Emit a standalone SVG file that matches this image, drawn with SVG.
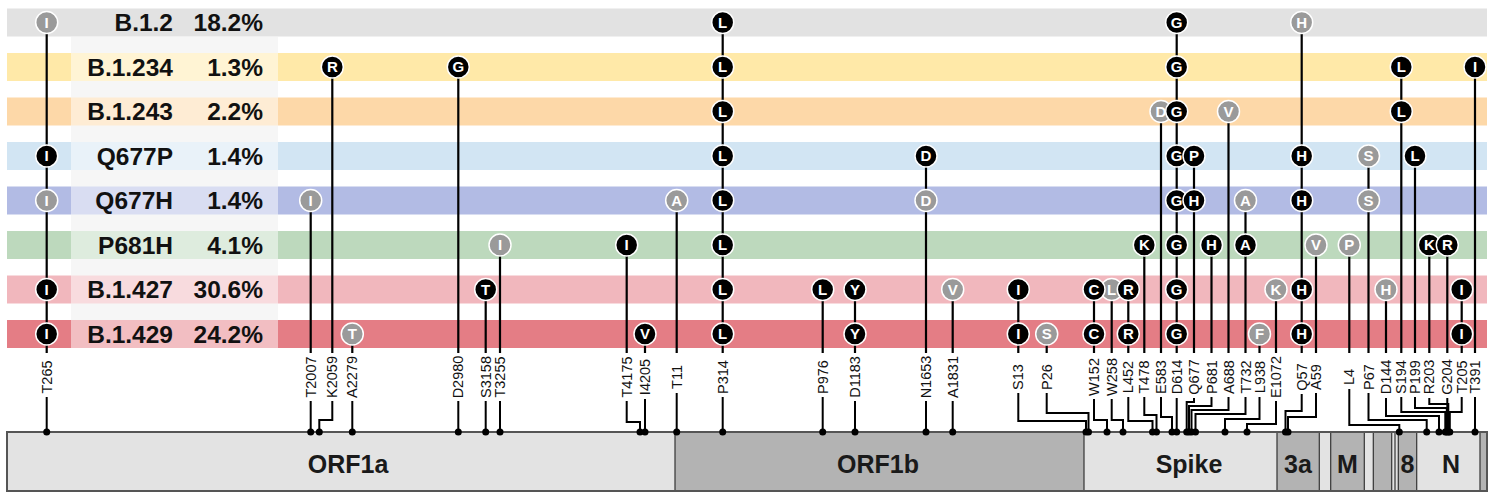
<svg xmlns="http://www.w3.org/2000/svg" width="1491" height="499" viewBox="0 0 1491 499">
<style>
.lab{font-family:"Liberation Sans",Arial,sans-serif;font-weight:bold;font-size:24.5px;fill:#111;text-anchor:end}
.ln{stroke:#000;stroke-width:2.2;fill:none}
.lo{stroke:#000;stroke-width:2;fill:none}
.bk{fill:#000;stroke:#fff;stroke-width:1.5}
.gy{fill:#9a9a9a;stroke:#fff;stroke-width:1.5}
.bt{font-family:"Liberation Sans",Arial,sans-serif;font-weight:bold;font-size:15px;fill:#fff;text-anchor:middle}
.pos{font-family:"Liberation Sans",Arial,sans-serif;font-size:14.5px;fill:#111;text-anchor:middle}
.dot{fill:#000}
.sl{fill:#e3e3e3}
.sd{fill:#b3b3b3}
.sep{stroke:#333;stroke-width:1.2}
.gn{font-family:"Liberation Sans",Arial,sans-serif;font-weight:bold;font-size:25px;fill:#1a1a1a;text-anchor:middle}
</style>
<rect width="1491" height="499" fill="#fff"/>
<rect x="71" y="37" width="207" height="311" fill="#ececec"/>
<g id="rows">
<g id="row-B.1.2"><rect x="7" y="8.5" width="1480" height="28" fill="#e2e2e2"/></g>
<g id="row-B.1.234"><rect x="7" y="53" width="1480" height="28" fill="#ffe9a8"/></g>
<g id="row-B.1.243"><rect x="7" y="97.5" width="1480" height="28" fill="#fdd8a8"/></g>
<g id="row-Q677P"><rect x="7" y="142" width="1480" height="28" fill="#d2e5f3"/></g>
<g id="row-Q677H"><rect x="7" y="186.5" width="1480" height="28" fill="#b2bbe4"/></g>
<g id="row-P681H"><rect x="7" y="231" width="1480" height="28" fill="#bdd9bd"/></g>
<g id="row-B.1.427"><rect x="7" y="275.5" width="1480" height="28" fill="#f1b7bd"/></g>
<g id="row-B.1.429"><rect x="7" y="320" width="1480" height="28" fill="#e47d85"/></g>
</g>
<rect x="71" y="37" width="207" height="311" fill="#fff" opacity="0.5"/>
<g id="row-labels">
<text class="lab" x="173" y="31.3">B.1.2</text><text class="lab" x="263" y="31.3">18.2%</text>
<text class="lab" x="173" y="75.8">B.1.234</text><text class="lab" x="263" y="75.8">1.3%</text>
<text class="lab" x="173" y="120.3">B.1.243</text><text class="lab" x="263" y="120.3">2.2%</text>
<text class="lab" x="173" y="164.8">Q677P</text><text class="lab" x="263" y="164.8">1.4%</text>
<text class="lab" x="173" y="209.3">Q677H</text><text class="lab" x="263" y="209.3">1.4%</text>
<text class="lab" x="173" y="253.8">P681H</text><text class="lab" x="263" y="253.8">4.1%</text>
<text class="lab" x="173" y="298.3">B.1.427</text><text class="lab" x="263" y="298.3">30.6%</text>
<text class="lab" x="173" y="342.8">B.1.429</text><text class="lab" x="263" y="342.8">24.2%</text>
</g>
<g id="genome">
<rect class="sl" x="7" y="432" width="668" height="59"/>
<rect class="sd" x="675" y="432" width="409" height="59"/>
<rect class="sl" x="1084" y="432" width="193" height="59"/>
<rect class="sd" x="1277" y="432" width="42.3" height="59"/>
<rect class="sl" x="1319.3" y="432" width="11.4" height="59"/>
<rect class="sd" x="1330.7" y="432" width="33.6" height="59"/>
<rect class="sl" x="1364.3" y="432" width="9" height="59"/>
<rect class="sd" x="1373.3" y="432" width="18.4" height="59"/>
<rect class="sl" x="1391.7" y="432" width="6.6" height="59"/>
<rect class="sd" x="1398.3" y="432" width="18.4" height="59"/>
<rect class="sl" x="1416.7" y="432" width="63.3" height="59"/>
<rect class="sd" x="1480" y="432" width="7" height="59"/>
<g class="sep">
<line x1="675" y1="432" x2="675" y2="491"/><line x1="1084" y1="432" x2="1084" y2="491"/>
<line x1="1277" y1="432" x2="1277" y2="491"/><line x1="1319.3" y1="432" x2="1319.3" y2="491"/>
<line x1="1330.7" y1="432" x2="1330.7" y2="491"/><line x1="1364.3" y1="432" x2="1364.3" y2="491"/>
<line x1="1373.3" y1="432" x2="1373.3" y2="491"/><line x1="1391.7" y1="432" x2="1391.7" y2="491"/>
<line x1="1395" y1="432" x2="1395" y2="491"/>
<line x1="1398.3" y1="432" x2="1398.3" y2="491"/><line x1="1416.7" y1="432" x2="1416.7" y2="491"/>
<line x1="1480" y1="432" x2="1480" y2="491"/>
</g>
<rect x="7" y="432" width="1480" height="59" fill="none" stroke="#555" stroke-width="2"/>
<text class="gn" x="348" y="473">ORF1a</text>
<text class="gn" x="878" y="473">ORF1b</text>
<text class="gn" x="1189" y="473">Spike</text>
<text class="gn" x="1298" y="473">3a</text>
<text class="gn" x="1347.5" y="473">M</text>
<text class="gn" x="1407.5" y="473">8</text>
<text class="gn" x="1451" y="473">N</text>
</g>
<g id="connectors">
<path class="ln" d="M46.7 22.5V353M310.7 200.5V353M332.3 67V353M352.3 334V353M458.3 67V353M485.7 289.5V353M500 245V353M626.7 245V353M645 334V353M676.7 200.5V353M722.7 22.5V353M822.7 289.5V353M855 289.5V353M926 156V353M952.7 289.5V353M1018.3 289.5V353M1046.7 334V353M1094 289.5V353M1111.7 289.5V353M1128.3 289.5V353M1144.3 245V353M1161 111.5V353M1176.7 22.5V353M1194 156V353M1211.5 245V353M1228.5 111.5V353M1245.5 200.5V353M1259.5 334V353M1276 289.5V353M1301.7 22.5V353M1316 245V353M1349.3 245V353M1368.5 156V353M1386 289.5V353M1401.3 67V353M1415 156V353M1429.3 245V353M1447.3 245V353M1461.7 289.5V353M1475 67V353"/>
<path class="lo" d="M46.7 397V432M310.7 401V432M332.3 401V420H319.3V432M352.3 401V432M458.3 401V432M485.7 401V432M500 401V432M626.7 401V422H640V432M645 399V432M676.7 393V432M722.7 397V432M822.7 397V432M855 401V432M926 401V432M952.7 401V432"/>
<path class="lo" d="M1018.3 393V421H1086V432M1046.7 393V413H1088.5V432M1094 399V420H1107V432M1111.7 399V420H1123V432M1128.3 397V421H1152.5V432M1144.3 397V415H1156.5V432M1161 397V417H1172V432M1176.7 398V432M1194 398V402H1186.7V432M1211.5 397V406H1189V432M1228.5 397V410H1191.5V432M1245.5 397V414H1195.5V432M1259.5 397V419H1225V432M1276 401V424H1247V432"/>
<path class="lo" d="M1301.7 394V411H1285.5V432M1316 393V417H1288V432M1349.3 389V425H1399.3V432M1368.5 393V420H1426.7V432M1386 398V416H1439V432M1401.3 397V412H1445.3V432M1415 397V408H1446.8V432M1429.3 398V404H1448.3V432M1447.3 398V432M1461.7 397V412H1449.8V432M1475 397V432"/>
<g class="dot">
<circle cx="46.7" cy="432" r="3.5"/><circle cx="310.7" cy="432" r="3.5"/><circle cx="319.3" cy="432" r="3.5"/><circle cx="352.3" cy="432" r="3.5"/><circle cx="458.3" cy="432" r="3.5"/><circle cx="485.7" cy="432" r="3.5"/><circle cx="500" cy="432" r="3.5"/><circle cx="640" cy="432" r="3.5"/><circle cx="645" cy="432" r="3.5"/><circle cx="676.7" cy="432" r="3.5"/><circle cx="722.7" cy="432" r="3.5"/><circle cx="822.7" cy="432" r="3.5"/><circle cx="855" cy="432" r="3.5"/><circle cx="926" cy="432" r="3.5"/><circle cx="952.7" cy="432" r="3.5"/>
<circle cx="1086" cy="432" r="3.5"/><circle cx="1088.5" cy="432" r="3.5"/><circle cx="1107" cy="432" r="3.5"/><circle cx="1123" cy="432" r="3.5"/><circle cx="1152.5" cy="432" r="3.5"/><circle cx="1156.5" cy="432" r="3.5"/><circle cx="1172" cy="432" r="3.5"/><circle cx="1176.7" cy="432" r="3.5"/><circle cx="1186.7" cy="432" r="3.5"/><circle cx="1189" cy="432" r="3.5"/><circle cx="1191.5" cy="432" r="3.5"/><circle cx="1195.5" cy="432" r="3.5"/><circle cx="1225" cy="432" r="3.5"/><circle cx="1247" cy="432" r="3.5"/>
<circle cx="1285.5" cy="432" r="3.5"/><circle cx="1288" cy="432" r="3.5"/><circle cx="1399.3" cy="432" r="3.5"/><circle cx="1426.7" cy="432" r="3.5"/><circle cx="1439" cy="432" r="3.5"/><circle cx="1445.3" cy="432" r="3.5"/><circle cx="1446.8" cy="432" r="3.5"/><circle cx="1448.3" cy="432" r="3.5"/><circle cx="1449.8" cy="432" r="3.5"/><circle cx="1475" cy="432" r="3.5"/>
</g>
</g>
<g id="position-labels" class="pos">
<text transform="translate(51.7,377) rotate(-90)">T265</text>
<text transform="translate(315.7,377) rotate(-90)">T2007</text>
<text transform="translate(337.3,377) rotate(-90)">K2059</text>
<text transform="translate(357.3,377) rotate(-90)">A2279</text>
<text transform="translate(463.3,377) rotate(-90)">D2980</text>
<text transform="translate(490.7,377) rotate(-90)">S3158</text>
<text transform="translate(505,377) rotate(-90)">T3255</text>
<text transform="translate(631.7,377) rotate(-90)">T4175</text>
<text transform="translate(650,377) rotate(-90)">I4205</text>
<text transform="translate(681.7,377) rotate(-90)">T11</text>
<text transform="translate(727.7,377) rotate(-90)">P314</text>
<text transform="translate(827.7,377) rotate(-90)">P976</text>
<text transform="translate(860,377) rotate(-90)">D1183</text>
<text transform="translate(931,377) rotate(-90)">N1653</text>
<text transform="translate(957.7,377) rotate(-90)">A1831</text>
<text transform="translate(1023.3,377) rotate(-90)">S13</text>
<text transform="translate(1051.7,377) rotate(-90)">P26</text>
<text transform="translate(1099,377) rotate(-90)">W152</text>
<text transform="translate(1116.7,377) rotate(-90)">W258</text>
<text transform="translate(1133.3,377) rotate(-90)">L452</text>
<text transform="translate(1149.3,377) rotate(-90)">T478</text>
<text transform="translate(1166,377) rotate(-90)">E583</text>
<text transform="translate(1181.7,377) rotate(-90)">D614</text>
<text transform="translate(1199,377) rotate(-90)">Q677</text>
<text transform="translate(1216.5,377) rotate(-90)">P681</text>
<text transform="translate(1233.5,377) rotate(-90)">A688</text>
<text transform="translate(1250.5,377) rotate(-90)">T732</text>
<text transform="translate(1264.5,377) rotate(-90)">L938</text>
<text transform="translate(1281,377) rotate(-90)">E1072</text>
<text transform="translate(1306.7,377) rotate(-90)">Q57</text>
<text transform="translate(1321,377) rotate(-90)">A59</text>
<text transform="translate(1354.3,377) rotate(-90)">L4</text>
<text transform="translate(1373.5,377) rotate(-90)">P67</text>
<text transform="translate(1391,377) rotate(-90)">D144</text>
<text transform="translate(1406.3,377) rotate(-90)">S194</text>
<text transform="translate(1420,377) rotate(-90)">P199</text>
<text transform="translate(1434.3,377) rotate(-90)">R203</text>
<text transform="translate(1452.3,377) rotate(-90)">G204</text>
<text transform="translate(1466.7,377) rotate(-90)">T205</text>
<text transform="translate(1480,377) rotate(-90)">T391</text>
</g>
<g id="mut-T265"><circle class="gy" cx="46.7" cy="22.5" r="11"/><text class="bt" x="46.7" y="27.8">I</text><circle class="bk" cx="46.7" cy="156" r="11"/><text class="bt" x="46.7" y="161.3">I</text><circle class="gy" cx="46.7" cy="200.5" r="11"/><text class="bt" x="46.7" y="205.8">I</text><circle class="bk" cx="46.7" cy="289.5" r="11"/><text class="bt" x="46.7" y="294.8">I</text><circle class="bk" cx="46.7" cy="334" r="11"/><text class="bt" x="46.7" y="339.3">I</text></g>
<g id="mut-T2007"><circle class="gy" cx="310.7" cy="200.5" r="11"/><text class="bt" x="310.7" y="205.8">I</text></g>
<g id="mut-K2059"><circle class="bk" cx="332.3" cy="67" r="11"/><text class="bt" x="332.3" y="72.3">R</text></g>
<g id="mut-A2279"><circle class="gy" cx="352.3" cy="334" r="11"/><text class="bt" x="352.3" y="339.3">T</text></g>
<g id="mut-D2980"><circle class="bk" cx="458.3" cy="67" r="11"/><text class="bt" x="458.3" y="72.3">G</text></g>
<g id="mut-S3158"><circle class="bk" cx="485.7" cy="289.5" r="11"/><text class="bt" x="485.7" y="294.8">T</text></g>
<g id="mut-T3255"><circle class="gy" cx="500" cy="245" r="11"/><text class="bt" x="500" y="250.3">I</text></g>
<g id="mut-T4175"><circle class="bk" cx="626.7" cy="245" r="11"/><text class="bt" x="626.7" y="250.3">I</text></g>
<g id="mut-I4205"><circle class="bk" cx="645" cy="334" r="11"/><text class="bt" x="645" y="339.3">V</text></g>
<g id="mut-T11"><circle class="gy" cx="676.7" cy="200.5" r="11"/><text class="bt" x="676.7" y="205.8">A</text></g>
<g id="mut-P314"><circle class="bk" cx="722.7" cy="22.5" r="11"/><text class="bt" x="722.7" y="27.8">L</text><circle class="bk" cx="722.7" cy="67" r="11"/><text class="bt" x="722.7" y="72.3">L</text><circle class="bk" cx="722.7" cy="111.5" r="11"/><text class="bt" x="722.7" y="116.8">L</text><circle class="bk" cx="722.7" cy="156" r="11"/><text class="bt" x="722.7" y="161.3">L</text><circle class="bk" cx="722.7" cy="200.5" r="11"/><text class="bt" x="722.7" y="205.8">L</text><circle class="bk" cx="722.7" cy="245" r="11"/><text class="bt" x="722.7" y="250.3">L</text><circle class="bk" cx="722.7" cy="289.5" r="11"/><text class="bt" x="722.7" y="294.8">L</text><circle class="bk" cx="722.7" cy="334" r="11"/><text class="bt" x="722.7" y="339.3">L</text></g>
<g id="mut-P976"><circle class="bk" cx="822.7" cy="289.5" r="11"/><text class="bt" x="822.7" y="294.8">L</text></g>
<g id="mut-D1183"><circle class="bk" cx="855" cy="289.5" r="11"/><text class="bt" x="855" y="294.8">Y</text><circle class="bk" cx="855" cy="334" r="11"/><text class="bt" x="855" y="339.3">Y</text></g>
<g id="mut-N1653"><circle class="bk" cx="926" cy="156" r="11"/><text class="bt" x="926" y="161.3">D</text><circle class="gy" cx="926" cy="200.5" r="11"/><text class="bt" x="926" y="205.8">D</text></g>
<g id="mut-A1831"><circle class="gy" cx="952.7" cy="289.5" r="11"/><text class="bt" x="952.7" y="294.8">V</text></g>
<g id="mut-S13"><circle class="bk" cx="1018.3" cy="289.5" r="11"/><text class="bt" x="1018.3" y="294.8">I</text><circle class="bk" cx="1018.3" cy="334" r="11"/><text class="bt" x="1018.3" y="339.3">I</text></g>
<g id="mut-P26"><circle class="gy" cx="1046.7" cy="334" r="11"/><text class="bt" x="1046.7" y="339.3">S</text></g>
<g id="mut-W258"><circle class="gy" cx="1111.7" cy="289.5" r="11"/><text class="bt" x="1111.7" y="294.8">L</text></g>
<g id="mut-W152"><circle class="bk" cx="1094" cy="289.5" r="11"/><text class="bt" x="1094" y="294.8">C</text><circle class="bk" cx="1094" cy="334" r="11"/><text class="bt" x="1094" y="339.3">C</text></g>
<g id="mut-L452"><circle class="bk" cx="1128.3" cy="289.5" r="11"/><text class="bt" x="1128.3" y="294.8">R</text><circle class="bk" cx="1128.3" cy="334" r="11"/><text class="bt" x="1128.3" y="339.3">R</text></g>
<g id="mut-T478"><circle class="bk" cx="1144.3" cy="245" r="11"/><text class="bt" x="1144.3" y="250.3">K</text></g>
<g id="mut-E583"><circle class="gy" cx="1161" cy="111.5" r="11"/><text class="bt" x="1161" y="116.8">D</text></g>
<g id="mut-D614"><circle class="bk" cx="1176.7" cy="22.5" r="11"/><text class="bt" x="1176.7" y="27.8">G</text><circle class="bk" cx="1176.7" cy="67" r="11"/><text class="bt" x="1176.7" y="72.3">G</text><circle class="bk" cx="1176.7" cy="111.5" r="11"/><text class="bt" x="1176.7" y="116.8">G</text><circle class="bk" cx="1176.7" cy="156" r="11"/><text class="bt" x="1176.7" y="161.3">G</text><circle class="bk" cx="1176.7" cy="200.5" r="11"/><text class="bt" x="1176.7" y="205.8">G</text><circle class="bk" cx="1176.7" cy="245" r="11"/><text class="bt" x="1176.7" y="250.3">G</text><circle class="bk" cx="1176.7" cy="289.5" r="11"/><text class="bt" x="1176.7" y="294.8">G</text><circle class="bk" cx="1176.7" cy="334" r="11"/><text class="bt" x="1176.7" y="339.3">G</text></g>
<g id="mut-Q677"><circle class="bk" cx="1194" cy="156" r="11"/><text class="bt" x="1194" y="161.3">P</text><circle class="bk" cx="1194" cy="200.5" r="11"/><text class="bt" x="1194" y="205.8">H</text></g>
<g id="mut-P681"><circle class="bk" cx="1211.5" cy="245" r="11"/><text class="bt" x="1211.5" y="250.3">H</text></g>
<g id="mut-A688"><circle class="gy" cx="1228.5" cy="111.5" r="11"/><text class="bt" x="1228.5" y="116.8">V</text></g>
<g id="mut-T732"><circle class="gy" cx="1245.5" cy="200.5" r="11"/><text class="bt" x="1245.5" y="205.8">A</text><circle class="bk" cx="1245.5" cy="245" r="11"/><text class="bt" x="1245.5" y="250.3">A</text></g>
<g id="mut-L938"><circle class="gy" cx="1259.5" cy="334" r="11"/><text class="bt" x="1259.5" y="339.3">F</text></g>
<g id="mut-E1072"><circle class="gy" cx="1276" cy="289.5" r="11"/><text class="bt" x="1276" y="294.8">K</text></g>
<g id="mut-Q57"><circle class="gy" cx="1301.7" cy="22.5" r="11"/><text class="bt" x="1301.7" y="27.8">H</text><circle class="bk" cx="1301.7" cy="156" r="11"/><text class="bt" x="1301.7" y="161.3">H</text><circle class="bk" cx="1301.7" cy="200.5" r="11"/><text class="bt" x="1301.7" y="205.8">H</text><circle class="bk" cx="1301.7" cy="289.5" r="11"/><text class="bt" x="1301.7" y="294.8">H</text><circle class="bk" cx="1301.7" cy="334" r="11"/><text class="bt" x="1301.7" y="339.3">H</text></g>
<g id="mut-A59"><circle class="gy" cx="1316" cy="245" r="11"/><text class="bt" x="1316" y="250.3">V</text></g>
<g id="mut-L4"><circle class="gy" cx="1349.3" cy="245" r="11"/><text class="bt" x="1349.3" y="250.3">P</text></g>
<g id="mut-P67"><circle class="gy" cx="1368.5" cy="156" r="11"/><text class="bt" x="1368.5" y="161.3">S</text><circle class="gy" cx="1368.5" cy="200.5" r="11"/><text class="bt" x="1368.5" y="205.8">S</text></g>
<g id="mut-D144"><circle class="gy" cx="1386" cy="289.5" r="11"/><text class="bt" x="1386" y="294.8">H</text></g>
<g id="mut-S194"><circle class="bk" cx="1401.3" cy="67" r="11"/><text class="bt" x="1401.3" y="72.3">L</text><circle class="bk" cx="1401.3" cy="111.5" r="11"/><text class="bt" x="1401.3" y="116.8">L</text></g>
<g id="mut-P199"><circle class="bk" cx="1415" cy="156" r="11"/><text class="bt" x="1415" y="161.3">L</text></g>
<g id="mut-R203"><circle class="bk" cx="1429.3" cy="245" r="11"/><text class="bt" x="1429.3" y="250.3">K</text></g>
<g id="mut-G204"><circle class="bk" cx="1447.3" cy="245" r="11"/><text class="bt" x="1447.3" y="250.3">R</text></g>
<g id="mut-T205"><circle class="bk" cx="1461.7" cy="289.5" r="11"/><text class="bt" x="1461.7" y="294.8">I</text><circle class="bk" cx="1461.7" cy="334" r="11"/><text class="bt" x="1461.7" y="339.3">I</text></g>
<g id="mut-T391"><circle class="bk" cx="1475" cy="67" r="11"/><text class="bt" x="1475" y="72.3">I</text></g>
</svg>
